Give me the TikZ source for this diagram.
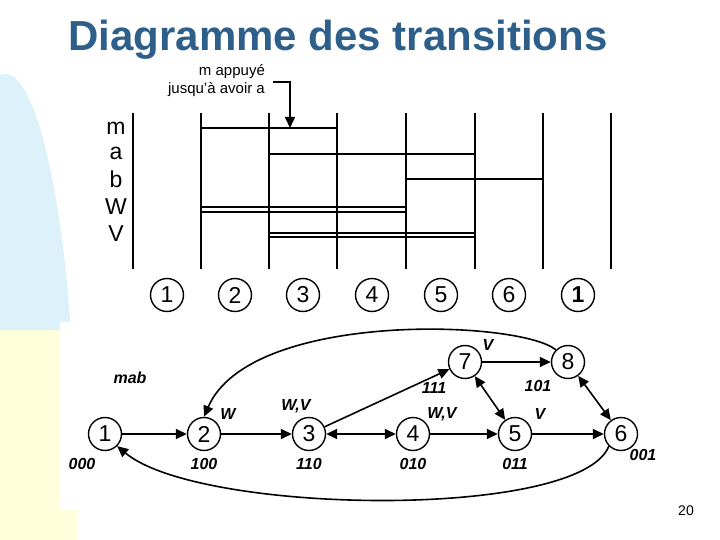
\documentclass[tikz,border=0pt]{standalone}
\usepackage{fontspec}
\setmainfont{Liberation Sans}
\usetikzlibrary{positioning,arrows.meta}
\definecolor{titleblue}{HTML}{2E5F8A}
\definecolor{paleblue}{HTML}{DDF1FB}
\definecolor{paleyellow}{HTML}{FFFFDC}
\begin{document}
\begin{tikzpicture}[x=1pt,y=-1pt,line width=1.6pt,
                    state/.style={circle,draw=black,line width=1.4pt,minimum size=33,inner sep=0pt,font=\fontsize{23}{23}\selectfont},
                    phase/.style={circle,draw=black,line width=1.4pt,minimum size=33,inner sep=0pt,font=\fontsize{23}{23}\selectfont},
                    code/.style={font=\fontsize{16}{16}\selectfont\itshape\bfseries},
                    action/.style={font=\fontsize{16}{16}\selectfont\itshape\bfseries},
                    sig/.style={font=\fontsize{23}{23}\selectfont},
                    trans/.style={-{Triangle[length=11pt,width=10pt]}},
                    both/.style={{Triangle[length=11pt,width=10pt]}-{Triangle[length=11pt,width=10pt]}}
                ]
    \useasboundingbox (0,0) rectangle (720,540);
    % background
    \fill[paleblue] (0,540) -- (0,75) .. controls (35,60) and (62,200) .. (70,320) -- (78,540) -- cycle;
    \fill[paleyellow] (0,540) -- (0,330) -- (78,330) -- (78,540) -- cycle;
    \fill[white] (60,322) rectangle (680,510);
    \node[text=titleblue,font=\fontsize{42}{42}\selectfont\bfseries] (title) at (338,40) {Diagramme des transitions};
    \node[font=\fontsize{14}{14}\selectfont] (page) at (686,511) {20};
    % chronogram
    \foreach \x in {133,201,269,337,406,475,543,611}
        \draw (\x,113) -- (\x,269);
    \foreach \s/\y in {m/128,a/153,b/179,W/207,V/234}
        \node[sig] (sig\s) at (116,\y) {\s};
    \draw (201,128) -- (337,128);
    \draw (269,154) -- (475,154);
    \draw (406,179) -- (543,179);
    \draw[line width=1.2pt] (201,207) -- (406,207);
    \draw[line width=1.2pt] (201,212) -- (406,212);
    \draw[line width=1.2pt] (269,233) -- (475,233);
    \draw[line width=1.2pt] (269,237) -- (475,237);
    \node[font=\fontsize{15}{18}\selectfont,align=right,anchor=east] (note) at (269,81) {m appuyé\\jusqu'à avoir a};
    \coordinate (noteend) at (290,82);
    \coordinate (mline) at (290,128);
    \draw[trans] (273,82) -- (noteend) -- (mline);
    \foreach \i/\x in {1/167,2/235,3/303,4/372,5/441,6/509}
        \node[phase] (ph\i) at (\x,295) {\i};
    \node[phase,font=\fontsize{23}{23}\selectfont\bfseries] (ph7) at (578,295) {1};
    % state graph
    \node[state] (s1) at (105,434) {1};
    \node[state] (s2) at (204,434) {2};
    \node[state] (s3) at (309,434) {3};
    \node[state] (s4) at (413,434) {4};
    \node[state] (s5) at (515,434) {5};
    \node[state] (s6) at (621,434) {6};
    \node[state] (s7) at (465,362) {7};
    \node[state] (s8) at (568,362) {8};
    \node[code] (mab) at (130,378) {mab};
    \node[code] (c1) at (82,464) {000};
    \node[code] (c2) at (204,464) {100};
    \node[code] (c3) at (309,464) {110};
    \node[code] (c4) at (413,464) {010};
    \node[code] (c5) at (515,464) {011};
    \node[code] (c6) at (643,455) {001};
    \node[code] (c7) at (434,388) {111};
    \node[code] (c8) at (538,386) {101};
    \node[action] (o2) at (228,414) {W};
    \node[action] (o3) at (296,406) {W,V};
    \node[action] (o4) at (442,414) {W,V};
    \node[action] (o5) at (540,414) {V};
    \node[action] (o7) at (488,345) {V};
    \draw[trans] (s1) -- (s2);
    \draw[trans] (s2) -- (s3);
    \draw[both] (s3) -- (s4);
    \draw[trans] (s4) -- (s5);
    \draw[trans] (s5) -- (s6);
    \draw[trans] (s3) -- (s7);
    \draw[trans] (s7) -- (s8);
    \draw[both] (s7) -- (s5);
    \draw[both] (s8) -- (s6);
    \draw[trans] (s8.north west) .. controls (520,320) and (250,310) .. (s2.north);
    \draw[trans] (s6.south west) .. controls (580,520) and (200,515) .. (s1.south east);
\end{tikzpicture}
\end{document}
